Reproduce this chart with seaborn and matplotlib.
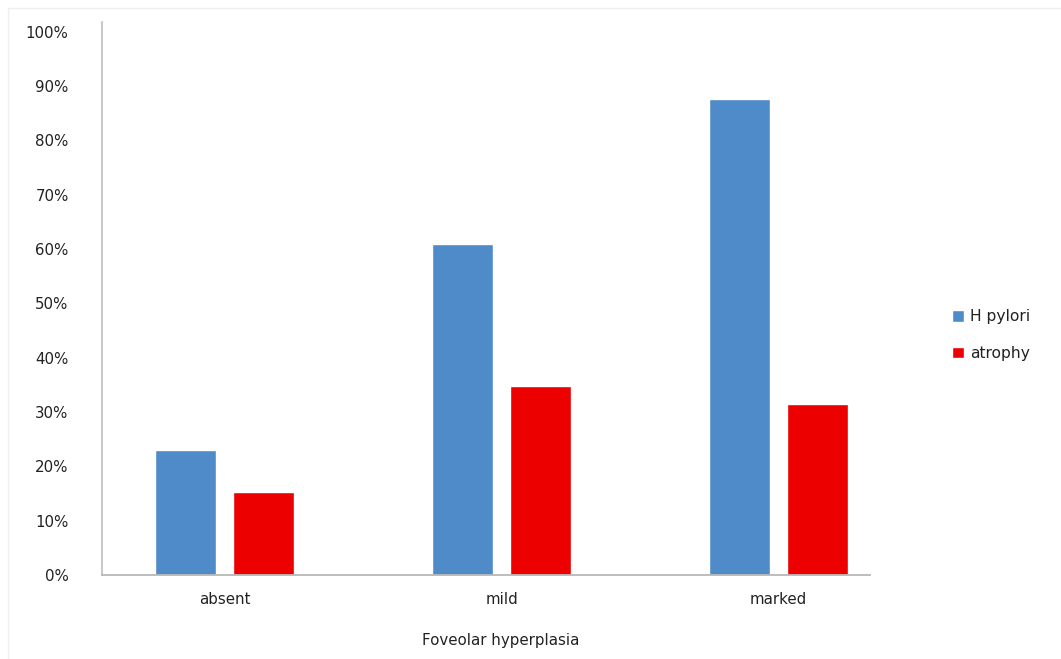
import matplotlib
matplotlib.use("Agg")
import matplotlib.pyplot as plt
from matplotlib.patches import Rectangle
from matplotlib.ticker import FuncFormatter, MultipleLocator
import pandas as pd
import seaborn as sns

# Share of cases by grade of foveolar hyperplasia
categories = ["absent", "mild", "marked"]
series_names = ["H pylori", "atrophy"]
h_pylori = [23.1, 60.9, 87.6]
atrophy = [15.3, 34.8, 31.4]
colors = ["#4E8BC8", "#EC0000"]

df = pd.DataFrame({
    "grade": categories * 2,
    "series": [series_names[0]] * 3 + [series_names[1]] * 3,
    "value": h_pylori + atrophy,
})

sns.set_theme(style="white")
plt.rcParams["font.family"] = ["DejaVu Sans"]
FS = 10.8
TXT = "#222222"

fig = plt.figure(figsize=(10.61, 6.59), dpi=100)
ax = fig.add_axes([0.0961, 0.1275, 0.7237, 0.8391])

sns.barplot(data=df, x="grade", y="value", hue="series", order=categories,
            hue_order=series_names, palette=colors, width=0.563, gap=0.218,
            saturation=1, errorbar=None, ax=ax, legend=True)

ax.set_ylim(0, 101.8)
ax.set_xlim(-0.444, 2.329)
ax.yaxis.set_major_locator(MultipleLocator(10))
ax.yaxis.set_major_formatter(FuncFormatter(lambda v, _: f"{v:.0f}%"))
ax.tick_params(axis="y", length=0, pad=24, labelsize=FS, labelcolor=TXT)
ax.tick_params(axis="x", length=0, pad=12, labelsize=FS, labelcolor=TXT)
ax.set_xlabel("")
ax.set_ylabel("")

for side in ["top", "right"]:
    ax.spines[side].set_visible(False)
ax.spines["left"].set_color("#C4C4C4")
ax.spines["left"].set_linewidth(1.3)
ax.spines["bottom"].set_color("#B8B8B8")
ax.spines["bottom"].set_linewidth(1.3)

fig.text(501 / 1061, 1 - 640 / 659, "Foveolar hyperplasia", ha="center",
         va="center", fontsize=FS, color=TXT)

sns.move_legend(ax, "center left", bbox_to_anchor=(0.897, 0.4917),
                bbox_transform=fig.transFigure, frameon=False, title=None,
                fontsize=11.2, handlelength=0.8, handleheight=0.8,
                handletextpad=0.4, labelspacing=1.4, borderpad=0,
                borderaxespad=0)
for t in ax.get_legend().get_texts():
    t.set_color(TXT)

# faint outline of the chart area
fig.patches.append(Rectangle((8 / 1061, -0.01), 1.02, 1 - 8 / 659 + 0.01,
                             transform=fig.transFigure, fill=False,
                             edgecolor="#EFEFEF", linewidth=1.0))

fig.savefig("out.png", dpi=100, facecolor="white")
